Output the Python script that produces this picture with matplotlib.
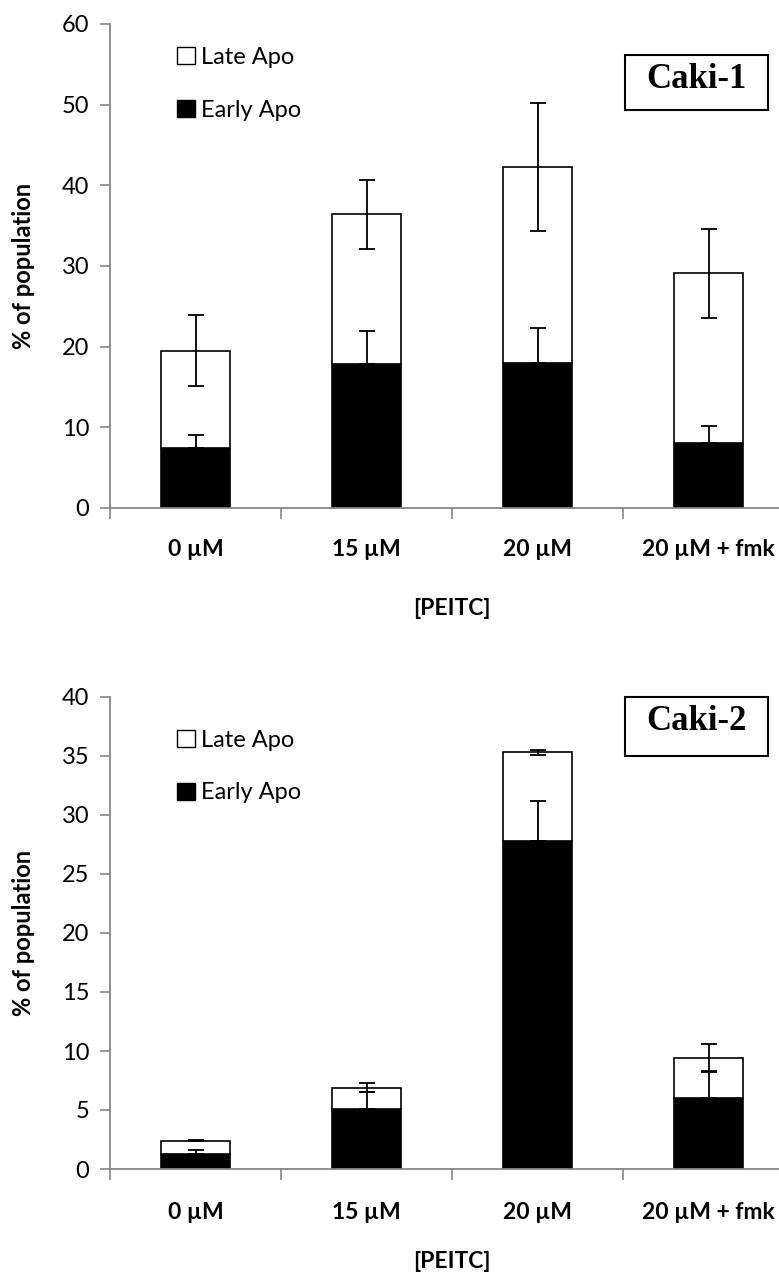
import numpy as np
import matplotlib.pyplot as plt
from matplotlib.patches import Patch, Rectangle

plt.rcParams['font.family'] = ['Lato', 'DejaVu Sans']

categorias = ['0 µM', '15 µM', '20 µM', '20 µM + fmk']

# Caki-1
early1 = [7.5, 17.8, 18.0, 8.0]
early1_err = [1.6, 4.2, 4.3, 2.2]
total1 = [19.5, 36.4, 42.3, 29.1]
total1_err = [4.4, 4.3, 7.9, 5.5]

# Caki-2
early2 = [1.3, 5.1, 27.8, 6.0]
early2_err = [0.3, 1.4, 3.4, 2.3]
total2 = [2.4, 6.9, 35.3, 9.4]
total2_err = [0.05, 0.4, 0.2, 1.2]

W, H = 779, 1277
GREY = '#868686'


def painel(rect, early, early_err, total, total_err, ymax, ystep, leg_y, pad_cat, pad_lab):
    ax = fig.add_axes(rect)
    x = np.arange(len(categorias))
    late = np.array(total) - np.array(early)
    w = 0.40
    ax.bar(x, early, w, color='black', edgecolor='black', linewidth=1.2, zorder=2)
    ax.bar(x, late, w, bottom=early, color='white', edgecolor='black', linewidth=1.2, zorder=2)
    ax.errorbar(x, early, yerr=[np.zeros(len(x)), early_err], fmt='none',
                ecolor='black', elinewidth=1.3, capsize=6, capthick=1.3, zorder=3)
    ax.errorbar(x, total, yerr=total_err, fmt='none',
                ecolor='black', elinewidth=1.3, capsize=6, capthick=1.3, zorder=3)
    ax.set_xlim(-0.5, len(x) - 0.5)
    ax.set_ylim(0, ymax)
    ax.set_yticks(np.arange(0, ymax + 1, ystep))
    ax.set_xticks(np.arange(-0.5, len(x)), minor=False)
    ax.set_xticklabels([])
    ax.set_xticks(x, minor=True)
    ax.set_xticklabels(categorias, minor=True, fontsize=16.5, fontweight='bold')
    ax.tick_params(axis='x', which='minor', length=0, pad=pad_cat)
    ax.tick_params(axis='x', which='major', length=8, width=1.2, color=GREY, direction='out')
    ax.tick_params(axis='y', length=7, width=1.2, color=GREY, labelsize=17, pad=8)
    for s in ['top', 'right']:
        ax.spines[s].set_visible(False)
    for s in ['left', 'bottom']:
        ax.spines[s].set_color(GREY)
        ax.spines[s].set_linewidth(1.3)
    ax.set_ylabel('% of population', fontsize=17, fontweight='bold')
    ax.yaxis.set_label_coords(-0.11, 0.5)
    ax.set_xlabel('[PEITC]', fontsize=16.5, fontweight='bold', labelpad=pad_lab)
    handles = [Patch(facecolor='white', edgecolor='black', linewidth=1),
               Patch(facecolor='black', edgecolor='black', linewidth=1)]
    ax.legend(handles, ['Late Apo', 'Early Apo'], loc='upper left',
              bbox_to_anchor=((168 - 110) / 684, leg_y), frameon=False,
              fontsize=17, handlelength=0.75, handleheight=0.75, handletextpad=0.25,
              labelspacing=1.35, borderaxespad=0)
    return ax


def caixa(x0, y0, x1, y1, ty, nome):
    fig.patches.append(Rectangle((x0 / W, 1 - y1 / H), (x1 - x0) / W, (y1 - y0) / H,
                                 transform=fig.transFigure, facecolor='white',
                                 edgecolor='black', linewidth=1.5, zorder=5))
    fig.text((x0 + x1) / 2 / W, 1 - ty / H, nome, family='Liberation Serif',
             fontweight='bold', fontsize=25, ha='center', va='center', zorder=6)


fig = plt.figure(figsize=(W / 100, H / 100), dpi=100)

painel([110 / W, 1 - 508 / H, 684 / W, 484 / H],
       early1, early1_err, total1, total1_err, 60, 10, 0.972, 22, 28)
caixa(625, 55, 768, 110, 80, 'Caki-1')

painel([110 / W, 1 - 1169 / H, 684 / W, 472 / H],
       early2, early2_err, total2, total2_err, 40, 5, 0.951, 24, 20)
caixa(625, 697, 768, 756, 721, 'Caki-2')

fig.savefig('out.png', dpi=100)
